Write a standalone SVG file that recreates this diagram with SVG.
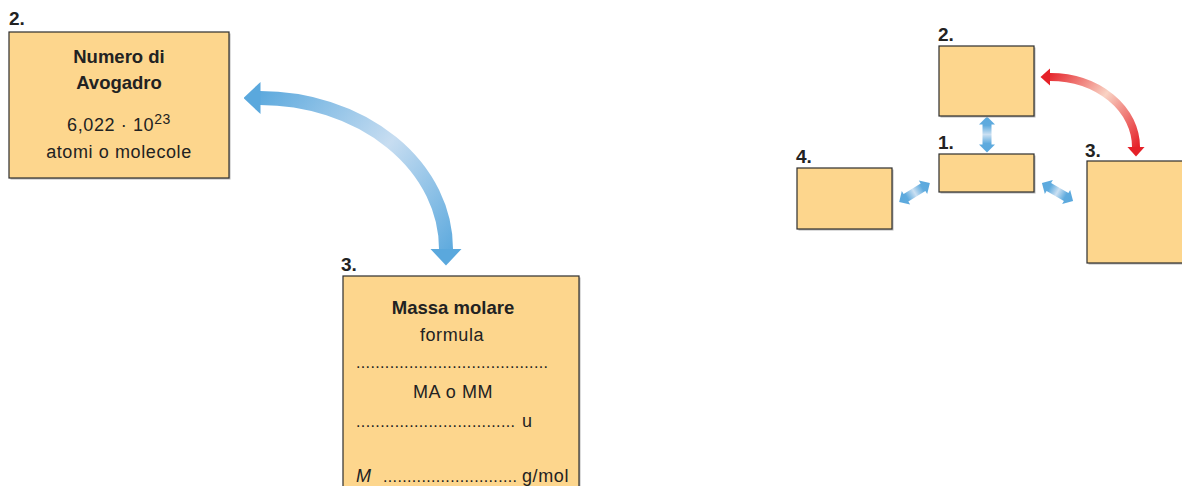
<svg xmlns="http://www.w3.org/2000/svg" xmlns:xlink="http://www.w3.org/1999/xlink" width="1182" height="486" viewBox="0 0 1182 486">
<style>
.box{fill:#FDD68D;stroke:#2e2e2e;stroke-width:1.2}
.shadow{fill:#b8b8b8}
.lbl{font-family:"Liberation Sans",Arial,sans-serif;font-weight:bold;font-size:19px;fill:#222}
.t{font-family:"Liberation Sans",Arial,sans-serif;font-size:18px;fill:#222;letter-spacing:0.6px}
.tb{font-family:"Liberation Sans",Arial,sans-serif;font-size:18.5px;font-weight:bold;fill:#222}
.dots{font-family:"Liberation Sans",Arial,sans-serif;font-size:16px;fill:#222}
</style>
<defs>
<linearGradient id="gBlueBig" gradientUnits="userSpaceOnUse" x1="250" y1="100" x2="450" y2="260">
<stop offset="0" stop-color="#5AA8DD"/><stop offset="0.53" stop-color="#C7DDF1"/><stop offset="1" stop-color="#5AA8DD"/>
</linearGradient>
<linearGradient id="gRed" gradientUnits="userSpaceOnUse" x1="1045" y1="77" x2="1136" y2="150">
<stop offset="0" stop-color="#E52128"/><stop offset="0.5" stop-color="#F9D3C4"/><stop offset="1" stop-color="#E52128"/>
</linearGradient>
<linearGradient id="gBlueH" x1="0" y1="0" x2="1" y2="0">
<stop offset="0" stop-color="#5AA8DD"/><stop offset="0.25" stop-color="#5FABDE"/><stop offset="0.5" stop-color="#CBE0F2"/><stop offset="0.75" stop-color="#5FABDE"/><stop offset="1" stop-color="#5AA8DD"/>
</linearGradient>
<marker id="mBlue" markerUnits="userSpaceOnUse" viewBox="0 0 17 32" markerWidth="17" markerHeight="32" refX="0.5" refY="16" orient="auto-start-reverse">
<path d="M0,0 L17,16 L0,32 Z" fill="#5AA8DD"/>
</marker>
<marker id="mRed" markerUnits="userSpaceOnUse" viewBox="0 0 10 18" markerWidth="10" markerHeight="18" refX="0.5" refY="9" orient="auto-start-reverse">
<path d="M0,0 L10,9 L0,18 Z" fill="#E52128"/>
</marker>
<path id="dbl" d="M-18,0 L-10,-8 L-10,-4.5 L10,-4.5 L10,-8 L18,0 L10,8 L10,4.5 L-10,4.5 L-10,8 Z" fill="url(#gBlueH)"/>
</defs>

<g id="connectors">
<path d="M260,98 A186,151 0 0 1 446,249" fill="none" stroke="url(#gBlueBig)" stroke-width="14" marker-start="url(#mBlue)" marker-end="url(#mBlue)"/>
<path d="M1050,77 A86,70 0 0 1 1136,147" fill="none" stroke="url(#gRed)" stroke-width="8" marker-start="url(#mRed)" marker-end="url(#mRed)"/>
<use xlink:href="#dbl" href="#dbl" transform="translate(987,134.5) rotate(90)"/>
<use xlink:href="#dbl" href="#dbl" transform="translate(914.5,192.5) rotate(-31.5)"/>
<use xlink:href="#dbl" href="#dbl" transform="translate(1057.5,192) rotate(30.1)"/>
</g>

<g id="node-avogadro">
<rect class="shadow" x="10.5" y="33.5" width="220" height="146"/>
<rect class="box" x="9" y="32" width="220" height="146"/>
<text class="lbl" x="9" y="25">2.</text>
<text class="tb" x="119" y="63" text-anchor="middle">Numero di</text>
<text class="tb" x="119" y="89" text-anchor="middle">Avogadro</text>
<text class="t" x="119" y="131" text-anchor="middle">6,022 · 10<tspan dy="-7" font-size="14">23</tspan></text>
<text class="t" x="119" y="158" text-anchor="middle">atomi o molecole</text>
</g>

<g id="node-massa">
<rect class="shadow" x="344.5" y="277.5" width="236" height="215"/>
<rect class="box" x="343" y="276" width="236" height="215"/>
<text class="lbl" x="341" y="271">3.</text>
<text class="tb" x="453" y="314" text-anchor="middle">Massa molare</text>
<text class="t" x="452" y="341" text-anchor="middle">formula</text>
<text class="dots" x="356" y="368" textLength="192" lengthAdjust="spacing">........................................</text>
<text class="t" x="453" y="398" text-anchor="middle">MA o MM</text>
<text class="dots" x="356" y="427" textLength="159" lengthAdjust="spacing">.................................</text>
<text class="t" x="522" y="427">u</text>
<text class="t" x="356" y="482" font-style="italic">M</text>
<text class="dots" x="383" y="482" textLength="134" lengthAdjust="spacing">............................</text>
<text class="t" x="522" y="482">g/mol</text>
</g>

<g id="node-r2">
<rect class="shadow" x="940.5" y="47.5" width="95" height="70"/>
<rect class="box" x="939" y="46" width="95" height="70"/>
<text class="lbl" x="938" y="41">2.</text>
</g>

<g id="node-r1">
<rect class="shadow" x="940.5" y="155.5" width="95" height="38"/>
<rect class="box" x="939" y="154" width="95" height="38"/>
<text class="lbl" x="938" y="149">1.</text>
</g>

<g id="node-r4">
<rect class="shadow" x="798.5" y="169.5" width="95" height="61"/>
<rect class="box" x="797" y="168" width="95" height="61"/>
<text class="lbl" x="796" y="163">4.</text>
</g>

<g id="node-r3">
<rect class="shadow" x="1088.5" y="162.5" width="100" height="102"/>
<rect class="box" x="1087" y="161" width="100" height="102"/>
<text class="lbl" x="1085" y="157">3.</text>
</g>
</svg>
